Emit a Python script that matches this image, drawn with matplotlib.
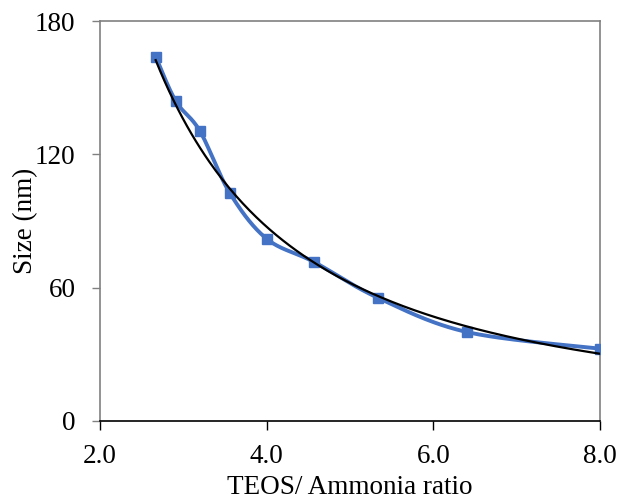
import numpy as np
import matplotlib
matplotlib.use("Agg")
import matplotlib.pyplot as plt

# TEOS / ammonia ratio vs particle size
ratio = [2.67, 2.91, 3.20, 3.56, 4.00, 4.57, 5.33, 6.40, 8.00]
size_nm = [164, 144, 130.5, 102.5, 82, 71.5, 55.5, 40, 32.5]

x_ticks = [2.0, 4.0, 6.0, 8.0]
y_ticks = [0, 60, 120, 180]

plt.rcParams["font.family"] = ["Liberation Serif", "DejaVu Serif"]

xlim = (2.0, 8.0)
ylim = (0, 180)


def smooth_curve(xs, ys, n=30):
    # Excel-like smoothed line: Catmull-Rom through points in axis-normalised space
    px = (np.asarray(xs) - xlim[0]) / (xlim[1] - xlim[0]) * 500
    py = (np.asarray(ys) - ylim[0]) / (ylim[1] - ylim[0]) * 400
    pts = np.column_stack([px, py])
    pts = np.vstack([pts[0], pts, pts[-1]])
    out = []
    for i in range(1, len(pts) - 2):
        p0, p1, p2, p3 = pts[i - 1], pts[i], pts[i + 1], pts[i + 2]
        c1 = p1 + (p2 - p0) / 6
        c2 = p2 - (p3 - p1) / 6
        t = np.linspace(0, 1, n)[:, None]
        seg = ((1 - t) ** 3) * p1 + 3 * ((1 - t) ** 2) * t * c1 + 3 * (1 - t) * t ** 2 * c2 + t ** 3 * p2
        out.append(seg if i == 1 else seg[1:])
    out = np.vstack(out)
    sx = out[:, 0] / 500 * (xlim[1] - xlim[0]) + xlim[0]
    sy = out[:, 1] / 400 * (ylim[1] - ylim[0]) + ylim[0]
    return sx, sy


fig = plt.figure(figsize=(6.2, 5.01), dpi=100)
ax = fig.add_axes([0.161, 0.160, 0.807, 0.798])

blue = "#4472C4"
sx, sy = smooth_curve(ratio, size_nm)
ax.plot(sx, sy, color=blue, lw=2.8, zorder=2)
ax.plot(ratio, size_nm, ls="none", marker="s", ms=7.5, color=blue, zorder=3)

# power-law trendline fitted in log-log space
b, log_a = np.polyfit(np.log(ratio), np.log(size_nm), 1)
fx = np.linspace(min(ratio), max(ratio), 200)
ax.plot(fx, np.exp(log_a) * fx ** b, color="black", lw=1.6, zorder=4)

ax.set_xlim(*xlim)
ax.set_ylim(*ylim)
ax.set_xticks(x_ticks)
ax.set_xticklabels([f"{v:.1f}" for v in x_ticks])
ax.set_yticks(y_ticks)
ax.set_yticklabels([str(v) for v in y_ticks])

for side in ["left", "right", "top"]:
    ax.spines[side].set_color("#808080")
    ax.spines[side].set_linewidth(1.2)
ax.spines["bottom"].set_color("black")
ax.spines["bottom"].set_linewidth(1.2)

ax.tick_params(axis="x", direction="out", length=6.5, width=1, color="black",
               labelsize=19.5, pad=10)
ax.tick_params(axis="y", direction="out", length=5.5, width=1, color="#808080",
               labelsize=19.5, pad=12)

ax.set_xlabel("TEOS/ Ammonia ratio", fontsize=19.5, labelpad=4.5)
ax.set_ylabel("Size (nm)", fontsize=19.5, labelpad=-2)

fig.savefig("out.png", dpi=100)
